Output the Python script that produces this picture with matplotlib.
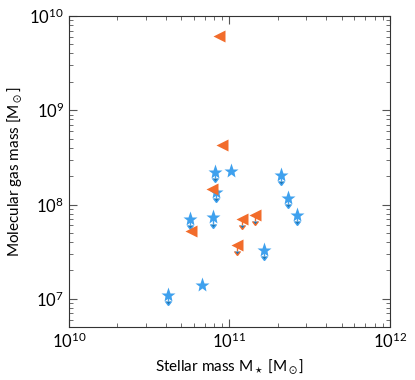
import matplotlib

matplotlib.use("Agg")
import matplotlib.pyplot as plt  # noqa: E402
import numpy as np  # noqa: E402

BLUE, ORANGE = "#3fa1ee", "#f26c2b"

# stars: stellar mass, gas mass, upper limit?
star_mstar = [8.1e10, 1.02e11, 2.08e11, 8.3e10, 5.7e10, 7.9e10, 2.32e11, 2.62e11, 1.63e11, 6.75e10, 4.16e10]
star_mgas = [2.2e8, 2.29e8, 2.07e8, 1.35e8, 7.1e7, 7.3e7, 1.17e8, 7.8e7, 3.3e7, 1.4e7, 1.1e7]
star_lim = [True, False, True, True, True, True, True, True, True, False, True]

# triangles
tri_mstar = [8.63e10, 8.93e10, 7.74e10, 5.73e10, 1.2e11, 1.44e11, 1.12e11]
tri_mgas = [6.2e9, 4.25e8, 1.47e8, 5.3e7, 7.06e7, 7.8e7, 3.7e7]
tri_lim = [False, False, False, False, True, True, True]

plt.rcParams.update({"mathtext.fontset": "stix", "font.family": "Lato"})

fig = plt.figure(figsize=(4.15, 3.8), dpi=100)
ax = fig.add_axes([0.166, 0.139, 0.774, 0.819])


def draw(xs, ys, lims, marker, color, ms):
    xs, ys, lims = np.array(xs), np.array(ys), np.array(lims)
    ax.plot(xs, ys, ls="none", marker=marker, color=color, ms=ms, mec="none", zorder=3)
    xl, yl = xs[lims], ys[lims]
    if len(xl):
        err = yl * (1 - 10 ** -0.065)
        ax.errorbar(xl, yl, yerr=[err, np.zeros_like(err)], uplims=True, fmt="none",
                    ecolor=color, elinewidth=1.0, capsize=2, zorder=2)


draw(star_mstar, star_mgas, star_lim, "*", BLUE, 11)
draw(tri_mstar, tri_mgas, tri_lim, "<", ORANGE, 8)

ax.set_xscale("log")
ax.set_yscale("log")
ax.set_xlim(1e10, 1e12)
ax.set_ylim(5e6, 1e10)
ax.tick_params(which="both", direction="in", top=True, right=True, labelsize=12,
               color="#555555")
ax.tick_params(which="major", length=6)
ax.tick_params(which="minor", length=3)
for s in ax.spines.values():
    s.set_color("#333333")
ax.set_xlabel(r"Stellar mass M$_\star$ [M$_\odot$]", fontsize=11)
ax.set_ylabel(r"Molecular gas mass [M$_\odot$]", fontsize=11)

fig.savefig("out.png", dpi=100)
